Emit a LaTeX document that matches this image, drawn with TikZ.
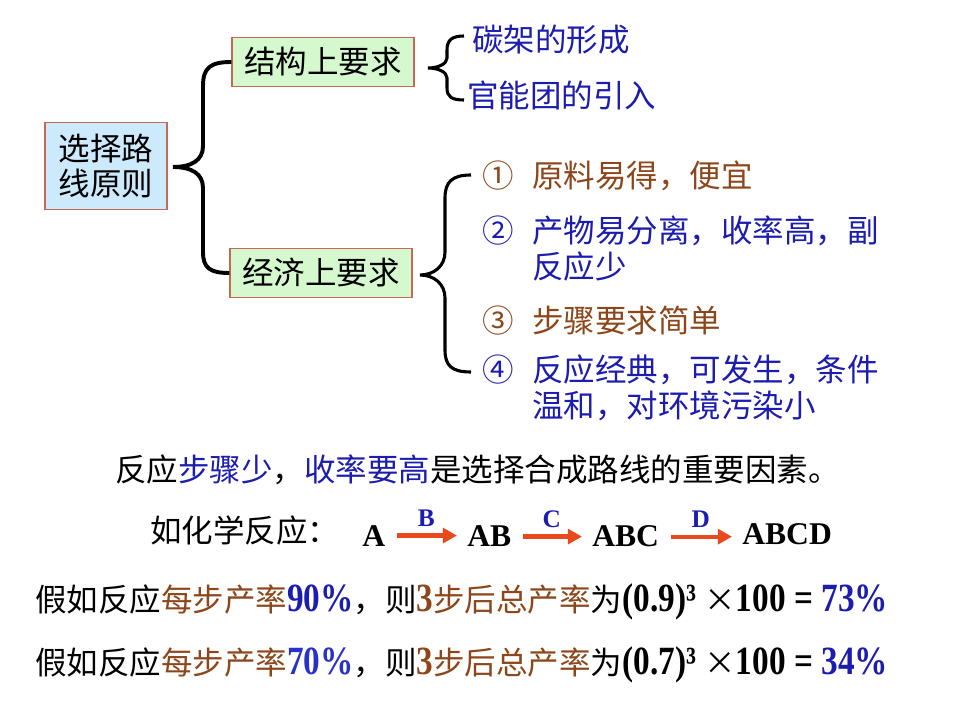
\documentclass[tikz,border=0pt]{standalone}
\usepackage{fontspec}
\setmainfont{Noto Sans CJK SC}
\newfontfamily\tmsB{Liberation Serif Bold}
\newfontfamily\tmsC[FakeStretch=0.83]{Liberation Serif Bold}
\usetikzlibrary{arrows.meta}
\definecolor{txtblue}{RGB}{28,28,175}
\definecolor{txtblueL}{RGB}{40,50,200}
\definecolor{txtbrown}{RGB}{140,70,25}
\definecolor{boxblue}{RGB}{204,234,252}
\definecolor{boxgreen}{RGB}{214,248,206}
\definecolor{boxedge}{RGB}{195,105,85}
\definecolor{arrred}{RGB}{232,74,30}
\newcommand\cjkfs{\fontsize{22.4}{27}\selectfont}
\newcommand\latC[1]{{\tmsC\fontsize{28.5}{30}\selectfont #1}}
\tikzset{
  txt/.style={inner sep=0pt, anchor=base west, font=\cjkfs},
  blutxt/.style={txt, text=txtblue},
  brntxt/.style={txt, text=txtbrown},
  rootbox/.style={draw=boxedge, line width=0.8pt, fill=boxblue, inner sep=0pt,
     minimum width=3.05cm, minimum height=2.18cm, align=center, font=\fontsize{22.4}{27}\selectfont},
  subbox/.style={draw=boxedge, line width=0.8pt, fill=boxgreen, inner sep=0pt,
     minimum width=4.55cm, minimum height=1.24cm, font=\cjkfs},
  bigbrace/.style={draw=black, line width=2.8pt},
  smallbrace/.style={draw=black, line width=2.2pt},
  chem/.style={inner sep=0pt, anchor=base west, font=\tmsB\fontsize{22.5}{26}\selectfont},
  rarrow/.style={draw=arrred, line width=3pt, -{Triangle[length=10pt,width=10.5pt]},
     shorten <=0.28cm, shorten >=0.25cm},
  lab/.style={inner sep=0pt, text=txtblue, font=\tmsB\fontsize{18}{20}\selectfont}
}
\begin{document}
\begin{tikzpicture}[x=0.025cm, y=-0.025cm]
\useasboundingbox (0,0) rectangle (960,720);

% boxes
\node[rootbox] (root) at (106,166) {选择路\\[-2pt]线原则};
\node[subbox] (s1) at (323,62) {结构上要求};
\node[subbox] (s2) at (321,273) {经济上要求};

% big brace
\coordinate (b1tip) at (173,167);
\draw[bigbrace] (s1.west) .. controls (210,62) and (203,68) .. (203,86) -- (203,146)
   .. controls (203,160) and (192,167) .. (b1tip)
   .. controls (192,167) and (203,174) .. (203,188) -- (203,252)
   .. controls (203,268) and (210,273) .. (s2.west);

% structural items
\node[blutxt] (t1) at (472,52) {碳架的形成};
\node[blutxt] (t2) at (467,108) {官能团的引入};
\coordinate (b2top) at (464,36);
\coordinate (b2bot) at (464,100);
\coordinate (b2tip) at (428,68);
\draw[smallbrace] (b2top) .. controls (452,36) and (447,40) .. (447,50) -- (447,58)
   .. controls (447,64) and (438,68) .. (b2tip)
   .. controls (438,68) and (447,72) .. (447,78) -- (447,88)
   .. controls (447,97) and (452,100) .. (b2bot);

% economic items
\node[brntxt] (n1) at (482,188) {①};
\node[brntxt] (e1) at (532,188) {原料易得，便宜};
\node[blutxt] (n2) at (482,243) {②};
\node[blutxt] (e2) at (532,243) {产物易分离，收率高，副};
\node[blutxt] (e2b) at (532,279) {反应少};
\node[brntxt] (n3) at (482,333) {③};
\node[brntxt] (e3) at (532,333) {步骤要求简单};
\node[blutxt] (n4) at (482,382) {④};
\node[blutxt] (e4) at (532,382) {反应经典，可发生，条件};
\node[blutxt] (e4b) at (532,418) {温和，对环境污染小};
\coordinate (b3top) at (471,175);
\coordinate (b3bot) at (471,372);
\coordinate (b3tip) at (420,275);
\draw[smallbrace] (b3top) .. controls (452,175) and (445,182) .. (445,198) -- (445,252)
   .. controls (445,266) and (434,275) .. (b3tip)
   .. controls (434,275) and (445,284) .. (445,298) -- (445,350)
   .. controls (445,366) and (452,372) .. (b3bot);

% sentence
\node[txt] (sent) at (115,482) {反应{\color{txtblue}步骤少}，{\color{txtblue}收率要高}是选择合成路线的重要因素。};

% reaction
\node[txt] (rx) at (150,542) {如化学反应：};
\node[chem] (A) at (362,546) {A};
\node[chem] (AB) at (467,547) {AB};
\node[chem] (ABC) at (592,547) {ABC};
\node[chem] (ABCD) at (742,545) {ABCD};
\draw[rarrow] (A.east) -- node[lab, midway, above=0.17cm] (lB) {B} (AB.west |- A.east);
\draw[rarrow] (AB.east) -- node[lab, midway, above=0.17cm] (lC) {C} (ABC.west |- AB.east);
\draw[rarrow] (ABC.east) -- node[lab, midway, above=0.17cm] (lD) {D} (ABCD.west |- ABC.east);

% yields
\node[txt] (y1) at (35,611) {假如反应{\color{txtbrown}每步产率}{\color{txtblue}\latC{90\%}}，则{\color{txtbrown}\latC{3}步后总产率}为\latC{(0.9)³ }×\latC{100 = }{\color{txtblue}\latC{73\%}}};
\node[txt] (y2) at (35,674) {假如反应{\color{txtbrown}每步产率}{\color{txtblueL}\latC{70\%}}，则{\color{txtbrown}\latC{3}步后总产率}为\latC{(0.7)³ }×\latC{100 = }{\color{txtblue}\latC{34\%}}};
\end{tikzpicture}
\end{document}
